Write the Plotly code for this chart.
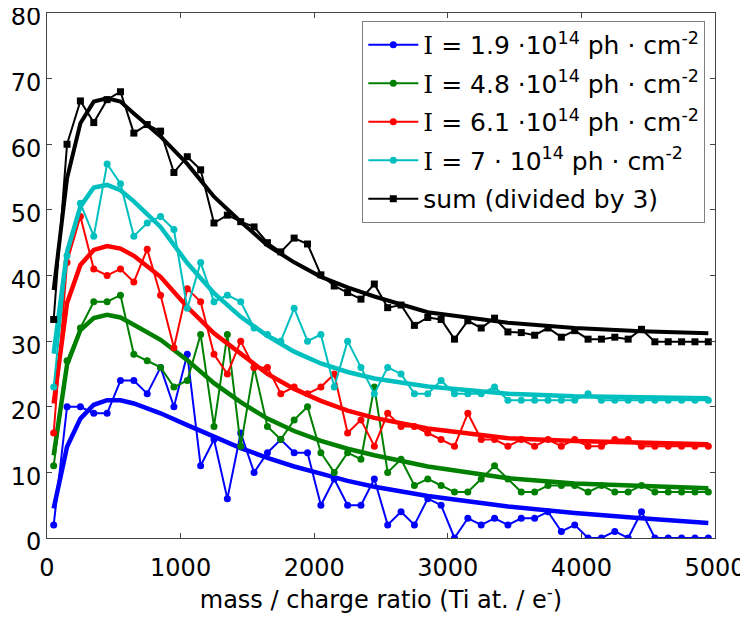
import plotly.graph_objects as go

# mass/charge positions of the measured points
x_vals = [50 + 100 * i for i in range(50)]

blue_y = [2, 20, 20, 19, 19, 24, 24, 22, 26, 20, 28, 11, 15, 6, 16, 10, 13, 15, 13, 13,
          5, 9, 5, 5, 9, 2, 4, 2, 6, 5, 0, 3, 2, 3, 2, 3, 3, 4, 1, 2,
          0, 0, 1, 0, 4, 0, 0, 0, 0, 0]
green_y = [11, 27, 32, 36, 36, 37, 28, 27, 26, 23, 24, 31, 17, 31, 14, 26, 17, 15, 18, 20,
           13, 10, 13, 12, 23, 10, 12, 8, 9, 8, 7, 7, 9, 11, 9, 7, 7, 8, 8, 8,
           7, 8, 7, 7, 8, 7, 7, 7, 7, 7]
red_y = [16, 42, 49, 41, 40, 41, 39, 44, 37, 29, 38, 36, 28, 25, 30, 26, 26, 22, 23, 22,
         23, 25, 16, 18, 14, 19, 17, 17, 16, 15, 14, 19, 15, 15, 14, 15, 14, 15, 14, 15,
         14, 14, 15, 15, 14, 14, 14, 14, 14, 14]
cyan_y = [23, 43, 51, 46, 57, 54, 46, 48, 49, 47, 35, 42, 36, 37, 36, 32, 31, 30, 35, 30,
          31, 23, 30, 26, 22, 26, 25, 22, 22, 24, 22, 22, 22, 23, 21, 21, 21, 21, 21, 21,
          22, 21, 21, 21, 21, 21, 21, 21, 21, 21]
sum_y = [33.3, 60, 66.6, 63.3, 66.8, 68, 61.7, 63, 62, 55.7, 58.1, 56.1, 48, 49.2, 48.2, 47.4, 45, 43.6, 45.7, 44.8,
         40.1, 38.4, 37.4, 36.4, 38.7, 35.1, 35.5, 32.4, 33.6, 33.3, 30.3, 33.1, 32.0, 33.5, 31.4, 31.3, 30.9, 32.0, 30.6, 31.6,
         30.3, 30.3, 30.6, 30.3, 31.8, 29.9, 29.9, 29.9, 29.9, 29.9]

# fitted curves
fit_x = [50, 150, 250, 350, 450, 550, 650, 750, 850, 1050, 1250, 1450, 1650, 1850, 2050, 2250, 2450, 2850, 3450, 3950, 4450, 4950]
blue_fit = [4.5, 13.9, 18.2, 20.3, 21.0, 21.0, 20.5, 19.8, 19.0, 17.2, 15.4, 13.7, 12.2, 10.9, 9.8, 8.7, 7.8, 6.4, 4.8, 3.8, 3.0, 2.3]
green_fit = [12.6, 26.4, 31.7, 33.5, 34.0, 33.6, 32.5, 31.4, 30.2, 27.1, 23.6, 20.7, 18.2, 16.3, 14.8, 13.6, 12.6, 10.9, 9.1, 8.3, 7.9, 7.6]
red_fit = [20.5, 35.8, 41.6, 43.9, 44.5, 44.1, 43.0, 41.5, 39.8, 35.2, 31.2, 28.1, 25.0, 22.7, 20.9, 19.4, 18.3, 16.7, 15.2, 14.8, 14.5, 14.3]
cyan_fit = [28.1, 43.6, 50.5, 53.4, 53.8, 53.0, 51.3, 49.4, 47.4, 41.9, 37.3, 33.7, 30.8, 28.4, 26.6, 25.3, 24.3, 23.1, 22.0, 21.6, 21.4, 21.3]
sum_fit = [37.8, 54.8, 63.2, 66.5, 67.0, 66.5, 64.7, 63.0, 61.2, 57.0, 52.0, 48.2, 44.6, 42.0, 39.8, 38.2, 36.8, 34.4, 32.8, 32.0, 31.5, 31.2]

x_ticks = [0, 1000, 2000, 3000, 4000, 5000]
y_ticks = [0, 10, 20, 30, 40, 50, 60, 70, 80]

I_ = "<span style='font-family:DejaVu Serif'>I</span>"
labels = [
    I_ + " = 1.9 \u00b710<sup>14</sup> ph \u00b7 cm<sup>-2</sup>",
    I_ + " = 4.8 \u00b710<sup>14</sup> ph \u00b7 cm<sup>-2</sup>",
    I_ + " = 6.1 \u00b710<sup>14</sup> ph \u00b7 cm<sup>-2</sup>",
    I_ + " = 7 \u00b7 10<sup>14</sup> ph \u00b7 cm<sup>-2</sup>",
    "sum (divided by 3)",
]
colors = ["#0000FF", "#008000", "#FF0000", "#00BFBF", "#000000"]
data = [blue_y, green_y, red_y, cyan_y, sum_y]
fits = [blue_fit, green_fit, red_fit, cyan_fit, sum_fit]
symbols = ["circle", "circle", "circle", "circle", "square"]

FONT = "DejaVu Sans"
fig = go.Figure()
for i in range(5):
    fig.add_trace(go.Scatter(
        x=x_vals, y=data[i], mode="lines+markers", name=labels[i],
        line=dict(color=colors[i], width=2),
        marker=dict(color=colors[i], size=7, symbol=symbols[i]),
        legendgroup=f"g{i}", legendrank=i + 1,
    ))
    fig.add_trace(go.Scatter(
        x=fit_x, y=fits[i], mode="lines", showlegend=False,
        line=dict(color=colors[i], width=4.5 if i < 4 else 4),
        hoverinfo="skip",
    ))

axis_common = dict(
    showgrid=False, zeroline=False, showline=True, linecolor="#444444", linewidth=1,
    mirror="ticks", ticks="inside", ticklen=5, tickcolor="#444444",
    tickfont=dict(family=FONT, size=24, color="#000000"),
    ticklabeloverflow="allow", automargin=False,
)
fig.update_xaxes(range=[0, 5000], tickvals=x_ticks, ticktext=[str(v) for v in x_ticks],
                 ticklabelstandoff=8,
                 title=dict(text="mass / charge ratio (Ti at. / e<sup>-</sup>)",
                            font=dict(family=FONT, size=24, color="#000000"), standoff=10),
                 **axis_common)
fig.update_yaxes(range=[0, 80], tickvals=y_ticks, ticktext=[str(v) for v in y_ticks],
                 ticklabelshift=4,
                 **axis_common)

# the page body adds an 8px offset, so the figure is sized/offset to compensate
fig.update_layout(
    width=740, height=611,
    margin=dict(l=39, r=33, t=5, b=81),
    paper_bgcolor="white", plot_bgcolor="white",
    font=dict(family=FONT, size=24, color="#000000"),
    showlegend=True,
    legend=dict(
        x=0.472, y=0.985, xanchor="left", yanchor="top",
        bgcolor="white", bordercolor="#7f7f7f", borderwidth=1,
        font=dict(family=FONT, size=25, color="#000000"),
        tracegroupgap=3, itemwidth=50,
    ),
)

fig.write_html("out.html")
